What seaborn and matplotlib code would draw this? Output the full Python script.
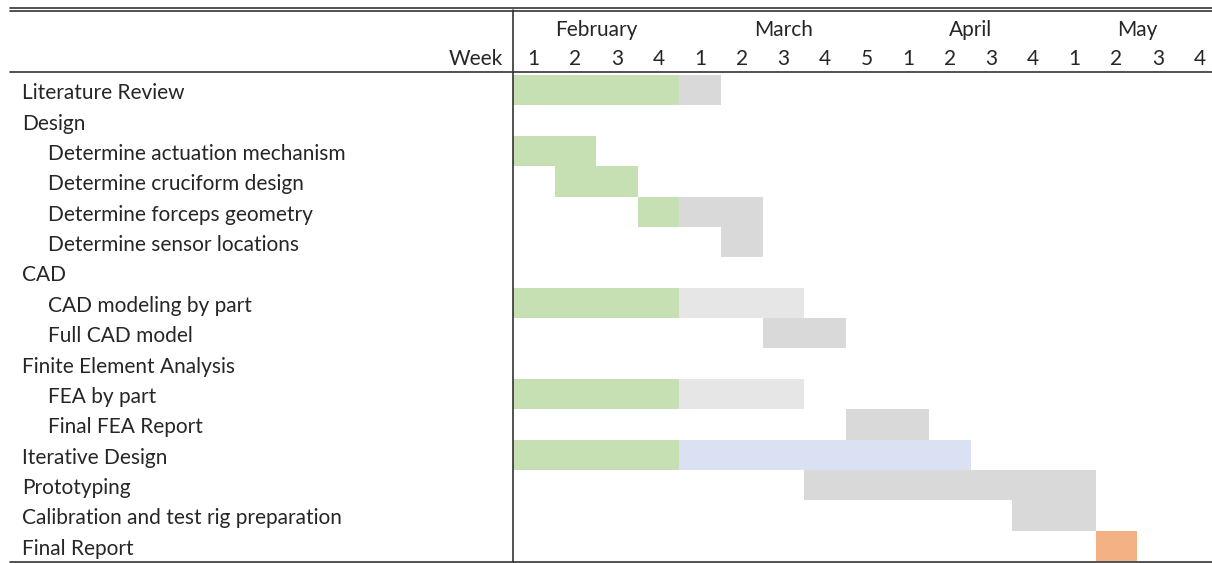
import numpy as np
import seaborn as sns
import matplotlib.pyplot as plt
from matplotlib.colors import ListedColormap
from matplotlib.lines import Line2D
from matplotlib.transforms import blended_transform_factory

# --- DATA ---
tasks = ["Literature Review", "Design", "Determine actuation mechanism",
         "Determine cruciform design", "Determine forceps geometry",
         "Determine sensor locations", "CAD", "CAD modeling by part",
         "Full CAD model", "Finite Element Analysis", "FEA by part",
         "Final FEA Report", "Iterative Design", "Prototyping",
         "Calibration and test rig preparation", "Final Report"]
indent = [0, 0, 1, 1, 1, 1, 0, 1, 1, 0, 1, 1, 0, 0, 0, 0]

months = ["February", "March", "April", "May"]
month_weeks = [4, 5, 4, 4]
week_labels = ["1", "2", "3", "4", "1", "2", "3", "4", "5",
               "1", "2", "3", "4", "1", "2", "3", "4"]

# segments: task index, start week (0-based), length in weeks, kind
seg_task = [0, 0, 2, 3, 4, 4, 5, 7, 7, 8, 10, 10, 11, 12, 12, 13, 14, 15]
seg_start = [0, 4, 0, 1, 3, 4, 5, 0, 4, 6, 0, 4, 8, 0, 4, 7, 12, 14]
seg_len = [4, 1, 2, 2, 1, 2, 1, 4, 3, 2, 4, 3, 2, 4, 7, 7, 2, 1]
seg_kind = [1, 2, 1, 1, 1, 2, 2, 1, 3, 2, 1, 3, 2, 1, 4, 2, 2, 5]

kind_colors = ["#C6E0B4", "#D9D9D9", "#E7E6E6", "#D9E1F2", "#F4B183"]

# --- build grid for the heatmap ---
n_weeks = len(week_labels)
grid = np.zeros((len(tasks), n_weeks))
for t, s, l, k in zip(seg_task, seg_start, seg_len, seg_kind):
    grid[t, s:s + l] = k

sns.set_theme(style="white")
plt.rcParams['font.family'] = ['Lato', 'DejaVu Sans']
FS = 15

W, H = 1212, 563
fig = plt.figure(figsize=(W / 100, H / 100), dpi=100)
ax = fig.add_axes([513 / W, 1 - 561 / H, 1 - 513 / W, (561 - 75) / H])

sns.heatmap(grid, mask=grid == 0, cmap=ListedColormap(kind_colors),
            vmin=0.5, vmax=5.5, cbar=False, ax=ax, linewidths=0)
ax.set_xlim(0, 16.8)
ax.set_xticks([])
ax.set_yticks([])
for sp in ax.spines.values():
    sp.set_visible(False)

# task labels (sit a little low in the cell, like Excel)
tr = blended_transform_factory(fig.transFigure, ax.transData)
for i, (name, ind) in enumerate(zip(tasks, indent)):
    x = (48 if ind else 22) / W
    ax.text(x, i + 0.6, name, transform=tr, va='center', ha='left', fontsize=FS)

# header
trx = blended_transform_factory(ax.transData, fig.transFigure)
for i, w in enumerate(week_labels):
    ax.text(i + 0.5, 1 - 59 / H, w, transform=trx, ha='center', va='center',
            fontsize=FS, clip_on=False)
pos = 0
for m, n in zip(months, month_weeks):
    ax.text(pos + n / 2, 1 - 30 / H, m, transform=trx, ha='center', va='center',
            fontsize=FS, clip_on=False)
    pos += n
fig.text(503 / W, 1 - 59 / H, "Week", ha='right', va='center', fontsize=FS)

# table rules
def hline(y, lw=1.2):
    fig.add_artist(Line2D([10 / W, 1], [1 - y / H] * 2, color='#333333', lw=lw))

hline(7.5)
hline(10.5)
hline(71.5)
hline(561.5)
fig.add_artist(Line2D([513 / W] * 2, [1 - 10 / H, 1 - 562 / H], color='#333333', lw=1.2))

fig.savefig("out.png", dpi=100)
